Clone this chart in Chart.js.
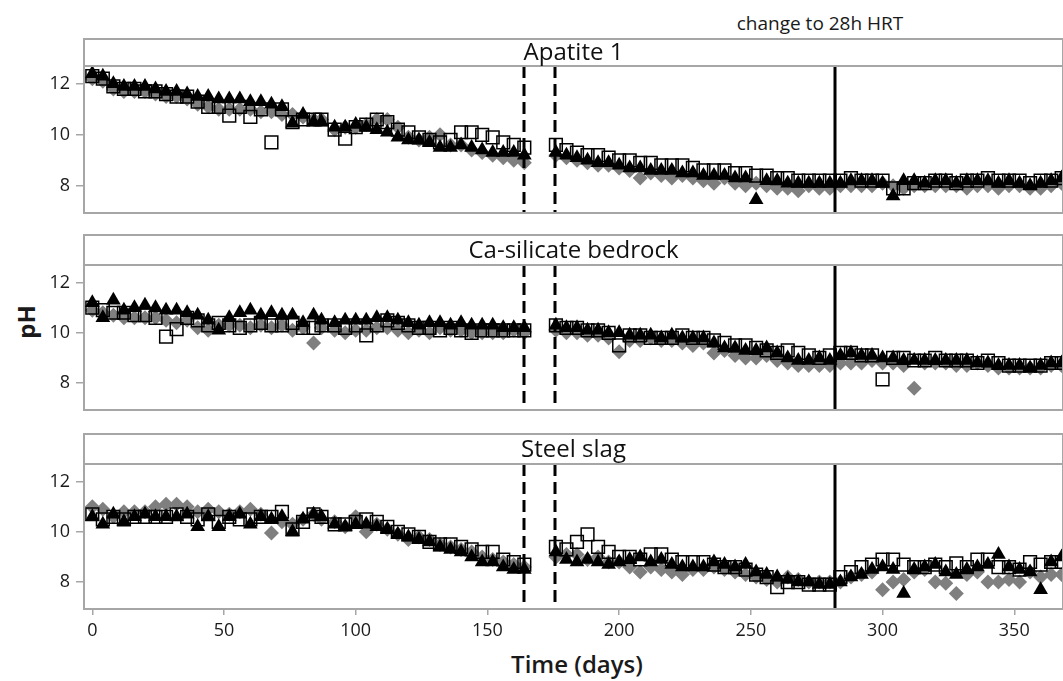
<!DOCTYPE html>
<html lang="en">
<head>
<meta charset="UTF-8">
<title>pH over time</title>
<script src="https://cdn.jsdelivr.net/npm/chart.js"></script>
<style>
  body { margin: 0; background: #fff; width: 1063px; height: 681px; overflow: hidden; position: relative; font-family: "Open Sans", sans-serif; }
  canvas { position: absolute; left: 0; }
  .txt { position: absolute; color: #1a1a1a; white-space: nowrap; line-height: 1; }
  #hrt { left: 820px; top: 14px; font-size: 19px; transform: translateX(-50%); }
  #ylab { left: 26px; top: 322px; font-size: 24px; font-weight: 700; transform: translate(-50%, -50%) rotate(-90deg); }
  #xlab { left: 577px; top: 652px; font-size: 24px; font-weight: 600; transform: translateX(-50%); }
</style>
</head>
<body>

<div class="txt" id="hrt">change to 28h HRT</div>
<div class="txt" id="ylab">pH</div>
<div class="txt" id="xlab">Time (days)</div>

<canvas id="c1" width="1063" height="176" style="top:38px"></canvas>
<canvas id="c2" width="1063" height="177" style="top:234px"></canvas>
<canvas id="c3" width="1063" height="248" style="top:433px"></canvas>

<script>
// sampling days (shared by every reactor)
const DAYS = [0,4,8,12,16,20,24,28,32,36,40,44,48,52,56,60,64,68,72,76,80,84,87,
  92,96,100,104,108,112,116,120,124,128,132,136,140,144,148,152,156,160,164,
  176,180,184,188,192,196,200,204,208,212,216,220,224,228,232,236,240,244,248,252,256,260,264,268,272,276,280,284,288,292,296,300,304,308,312,316,320,324,328,332,336,340,344,348,352,356,360,364,368];

const X_TICKS = [0,50,100,150,200,250,300,350];
const Y_TICKS = [8,10,12];
const DASHED_DAYS = [164, 175.5];
const SOLID_DAY = 282;
const PANEL_TITLES = ['Apatite 1', 'Ca-silicate bedrock', 'Steel slag'];

// Apatite 1
const A1_SQ = [12.3,12.2,11.9,11.8,11.8,11.7,11.7,11.6,11.5,11.5,11.3,11.1,11.1,10.75,11.1,10.7,11.0,9.7,11.0,10.5,10.6,10.6,10.6,
  10.2,9.85,10.3,10.4,10.6,10.5,10.2,10.1,9.9,9.8,9.7,9.8,10.1,10.1,10.0,9.9,9.7,9.6,9.5,
  9.6,9.4,9.3,9.2,9.2,9.1,9.0,9.0,8.9,8.9,8.8,8.8,8.8,8.7,8.6,8.6,8.6,8.5,8.5,8.4,8.4,8.3,8.3,8.2,8.2,8.2,8.2,8.2,8.3,8.2,8.2,8.2,7.9,7.9,8.1,8.1,8.2,8.2,8.1,8.2,8.2,8.3,8.2,8.2,8.2,8.1,8.2,8.2,8.3];
const A1_DIA = [12.2,12.1,11.8,11.7,11.7,11.7,11.6,11.5,11.5,11.4,11.2,11.1,11.0,11.0,11.0,11.0,10.9,10.9,10.8,10.8,10.7,10.6,10.6,
  10.2,10.3,10.3,10.4,10.6,10.6,10.3,9.9,9.8,9.9,10.0,9.6,9.6,9.4,9.3,9.2,9.1,9.0,8.9,
  9.2,9.1,9.0,8.9,8.8,8.8,8.7,8.6,8.3,8.5,8.4,8.3,8.4,8.3,8.2,8.1,8.3,8.1,8.0,8.1,8.0,7.9,7.9,7.8,8.0,7.9,7.9,8.0,8.0,8.0,8.0,8.1,8.0,7.9,8.0,8.0,8.0,8.0,8.0,7.9,8.0,8.0,7.9,8.0,8.0,7.9,7.9,8.0,8.1];
const A1_TRI = [12.4,12.3,12.0,11.9,11.9,11.9,11.8,11.7,11.7,11.6,11.5,11.5,11.4,11.4,11.4,11.3,11.3,11.2,11.1,10.45,10.8,10.5,10.5,
  10.3,10.3,10.4,10.3,10.2,10.1,9.9,9.8,9.8,9.7,9.5,9.5,9.6,9.5,9.4,9.3,9.3,9.3,9.2,
  9.3,9.2,9.1,9.0,8.9,8.9,8.8,8.7,8.7,8.6,8.6,8.6,8.5,8.5,8.4,8.4,8.4,8.3,8.3,7.45,8.2,8.2,8.1,8.1,8.1,8.1,8.1,8.1,8.2,8.2,8.2,8.1,7.6,8.2,8.2,8.1,8.2,8.2,8.1,8.2,8.2,8.2,8.1,8.2,8.1,8.0,8.1,8.2,8.3];

// Ca-silicate bedrock
const CS_SQ = [11.0,10.9,10.8,10.8,10.7,10.7,10.6,9.85,10.15,10.6,10.5,10.3,10.4,10.3,10.2,10.3,10.4,10.3,10.3,10.4,10.2,10.2,10.3,
  10.3,10.2,10.3,9.9,10.3,10.5,10.4,10.3,10.2,10.2,10.1,10.2,10.1,10.0,10.1,10.1,10.1,10.1,10.1,
  10.3,10.2,10.2,10.1,10.1,10.0,9.5,9.9,9.9,9.8,9.8,9.8,9.9,9.8,9.8,9.7,9.6,9.5,9.5,9.4,9.3,9.2,9.3,9.2,9.1,9.0,9.1,9.2,9.2,9.1,9.1,8.15,9.0,9.0,8.9,8.9,9.0,8.9,8.9,8.9,8.8,8.9,8.8,8.7,8.7,8.7,8.7,8.8,8.8];
const CS_DIA = [10.9,10.8,10.7,10.6,10.6,10.6,10.6,10.5,10.4,10.5,10.2,10.1,10.3,10.3,10.3,10.2,10.3,10.2,10.3,10.1,10.2,9.6,10.2,
  10.1,10.0,10.1,10.1,10.2,10.2,10.1,10.0,10.1,10.0,10.2,10.1,10.1,10.0,10.0,10.0,10.0,10.1,10.0,
  10.1,10.0,10.0,9.9,9.9,9.8,9.25,9.7,9.7,9.8,9.7,9.7,9.6,9.5,9.6,9.2,9.3,9.1,9.0,9.0,9.1,8.9,8.8,8.7,8.7,8.7,8.7,8.8,8.8,8.8,8.9,8.8,8.8,8.7,7.8,8.8,8.8,8.8,8.7,8.7,8.8,8.7,8.6,8.6,8.6,8.6,8.6,8.7,8.7];
const CS_TRI = [11.2,10.6,11.3,10.9,11.0,11.1,11.0,10.9,10.9,10.8,10.7,10.5,10.1,10.6,10.8,10.9,10.7,10.8,10.7,10.7,10.4,10.7,10.5,
  10.4,10.5,10.5,10.5,10.6,10.6,10.5,10.4,10.3,10.4,10.4,10.3,10.4,10.3,10.3,10.3,10.2,10.2,10.2,
  10.3,10.2,10.2,10.1,10.1,10.0,10.0,9.9,9.9,9.9,9.8,9.9,9.8,9.8,9.8,9.6,9.4,9.4,9.3,9.3,9.4,9.2,9.0,8.9,8.9,9.0,8.9,9.1,9.2,9.1,9.1,9.0,9.0,8.9,8.9,8.9,8.9,8.9,8.9,8.9,8.8,8.8,8.7,8.7,8.7,8.6,8.7,8.8,8.8];

// Steel slag
const SS_SQ = [10.7,10.5,10.6,10.5,10.6,10.6,10.6,10.6,10.7,10.6,10.5,10.7,10.4,10.6,10.5,10.5,10.6,10.6,10.8,10.1,10.4,10.7,10.6,
  10.3,10.3,10.4,10.5,10.4,10.2,10.0,9.9,9.8,9.6,9.5,9.5,9.4,9.3,9.2,9.2,8.9,8.8,8.7,
  9.4,9.3,9.6,9.9,9.4,9.2,9.0,9.0,8.9,9.1,9.1,8.9,8.8,8.8,8.8,8.7,8.6,8.6,8.5,8.3,8.2,7.8,8.0,8.0,7.9,7.9,7.9,8.2,8.4,8.6,8.7,8.9,8.9,8.7,8.6,8.6,8.7,8.6,8.75,8.6,8.9,8.9,8.6,8.6,8.5,8.8,8.7,8.8,8.8];
const SS_DIA = [11.0,10.9,10.6,10.8,10.8,10.8,11.0,11.1,11.1,11.0,10.8,10.9,10.8,10.7,10.8,10.9,10.7,9.95,10.4,10.3,10.5,10.7,10.5,
  10.4,10.2,10.6,10.0,10.3,10.1,9.9,9.7,9.8,9.7,9.5,9.4,9.3,9.2,9.0,8.9,8.8,8.7,8.6,
  9.0,9.1,9.1,8.9,9.0,8.8,8.8,8.6,8.4,8.6,8.5,8.4,8.3,8.5,8.5,8.6,8.5,8.4,8.3,8.2,8.1,8.0,8.2,8.1,8.0,8.0,8.0,8.0,8.2,8.3,8.4,7.7,8.0,8.1,8.4,8.5,8.0,7.95,7.55,8.3,8.4,8.0,8.0,8.1,8.0,8.4,8.2,8.3,8.3];
const SS_TRI = [10.6,10.3,10.7,10.4,10.6,10.7,10.6,10.6,10.6,10.7,10.2,10.6,10.2,10.6,10.7,10.3,10.6,10.5,10.6,10.0,10.5,10.7,10.6,
  10.3,10.2,10.3,10.3,10.2,10.1,9.9,9.8,9.7,9.6,9.4,9.3,9.2,9.0,8.8,8.8,8.6,8.5,8.5,
  9.2,8.9,8.8,8.9,8.8,8.7,8.8,8.9,9.0,8.8,8.9,8.7,8.6,8.6,8.6,8.8,8.7,8.6,8.7,8.4,8.3,8.2,8.1,8.0,8.0,7.9,7.9,8.0,8.2,8.3,8.5,8.6,8.5,7.55,8.5,8.6,8.7,8.4,8.3,8.5,8.6,8.7,9.1,8.6,8.5,8.4,7.7,8.8,9.0];

const GREY = '#a6a6a6';
Chart.defaults.font.family = '"Open Sans", sans-serif';
Chart.defaults.color = '#1a1a1a';

function pts(vals) {
    return DAYS.map(function (d, i) { return { x: d, y: vals[i] }; });
}

// strip header, frame and the event lines
const panelPlugin = {
    id: 'panel',
    afterDatasetsDraw(chart, args, opts) {
        const ctx = chart.ctx, a = chart.chartArea, x = chart.scales.x;
        ctx.save();
        ctx.strokeStyle = '#000';
        ctx.lineWidth = 3;
        ctx.setLineDash([12, 6]);
        DASHED_DAYS.forEach(function (d) {
            const px = Math.round(x.getPixelForValue(d));
            ctx.beginPath(); ctx.moveTo(px, a.top); ctx.lineTo(px, a.bottom); ctx.stroke();
        });
        ctx.setLineDash([]);
        const sx = Math.round(x.getPixelForValue(SOLID_DAY));
        ctx.beginPath(); ctx.moveTo(sx, a.top); ctx.lineTo(sx, a.bottom); ctx.stroke();

        ctx.strokeStyle = GREY;
        ctx.lineWidth = 2;
        ctx.strokeRect(a.left, 1, a.right - a.left, a.bottom - 1);
        ctx.beginPath(); ctx.moveTo(a.left, a.top); ctx.lineTo(a.right, a.top); ctx.stroke();

        ctx.fillStyle = '#111';
        ctx.font = '24px "Open Sans"';
        ctx.textAlign = 'center';
        ctx.textBaseline = 'middle';
        ctx.fillText(opts.title, (a.left + a.right) / 2, (1 + a.top) / 2 + 1);
        ctx.restore();
    }
};

function makePanel(id, title, sq, dia, tri, padTop, showX) {
    new Chart(document.getElementById(id), {
        type: 'scatter',
        data: {
            datasets: [
                { label: 'square', data: pts(sq), order: 1, pointStyle: 'rect', pointRadius: 9,
                  borderColor: '#000', borderWidth: 1.5, backgroundColor: 'rgba(0,0,0,0)' },
                { label: 'diamond', data: pts(dia), order: 2, pointStyle: 'rectRot', pointRadius: 7.5,
                  borderColor: '#7f7f7f', borderWidth: 0, backgroundColor: '#7f7f7f' },
                { label: 'triangle', data: pts(tri), order: 0, pointStyle: 'triangle', pointRadius: 8.5,
                  borderColor: '#000', borderWidth: 0, backgroundColor: '#000' }
            ]
        },
        options: {
            responsive: false,
            animation: false,
            devicePixelRatio: 1,
            layout: { autoPadding: false, padding: { top: padTop, bottom: showX ? 0 : 1, left: 0, right: 0 } },
            plugins: { legend: { display: false }, tooltip: { enabled: false }, panel: { title: title } },
            scales: {
                x: {
                    type: 'linear', min: -3.15, max: 368.5,
                    display: showX,
                    afterBuildTicks: function (s) { s.ticks = X_TICKS.map(function (v) { return { value: v }; }); },
                    afterFit: function (s) {
                        s.height = showX ? 72 : 0;
                        s.paddingLeft = 0; s.paddingRight = 0;
                    },
                    grid: { drawOnChartArea: false, tickLength: 6, color: GREY, lineWidth: 1.5 },
                    border: { display: false },
                    ticks: { font: { size: 18 }, padding: 5, maxRotation: 0 }
                },
                y: {
                    type: 'linear', min: 6.93, max: 12.7,
                    afterBuildTicks: function (s) { s.ticks = Y_TICKS.map(function (v) { return { value: v }; }); },
                    afterFit: function (s) {
                        s.width = 84;
                        s.paddingTop = 0; s.paddingBottom = 0;
                    },
                    grid: { drawOnChartArea: false, tickLength: 8, color: GREY, lineWidth: 1.5 },
                    border: { display: false },
                    ticks: { font: { size: 18 }, padding: 6 }
                }
            }
        },
        plugins: [panelPlugin]
    });
}

makePanel('c1', PANEL_TITLES[0], A1_SQ, A1_DIA, A1_TRI, 28, false);
makePanel('c2', PANEL_TITLES[1], CS_SQ, CS_DIA, CS_TRI, 31, false);
makePanel('c3', PANEL_TITLES[2], SS_SQ, SS_DIA, SS_TRI, 31, true);
</script>
</body>
</html>
